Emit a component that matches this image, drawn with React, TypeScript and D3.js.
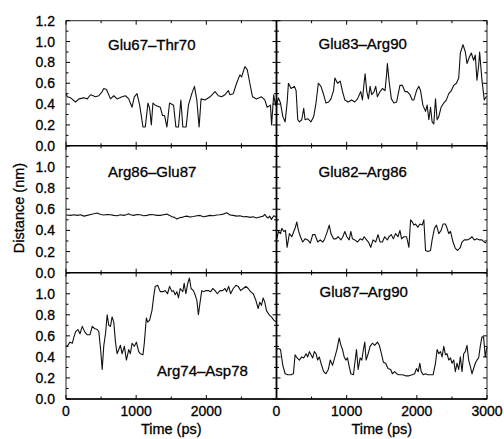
import React from "react";
import * as d3 from "d3";

// ---------- data (time in ps, distance in nm) ----------
const glu67Time = [0,19,66,137,184,255,303,350,421,468,516,539,577,634,681,728,799,847,894,941,974,1012,1050,1097,1130,1168,1192,1216,1239,1272,1343,1376,1405,1438,1476,1533,1566,1603,1637,1665,1712,1745,1793,1831,1864,1897,1925,1982,2053,2124,2171,2218,2266,2313,2337,2384,2431,2479,2502,2549,2583,2620,2658,2715,2786,2833,2867,2914,2930,2960,2985,3000];
const glu67Dist = [0.50,0.47,0.46,0.42,0.45,0.46,0.45,0.49,0.47,0.48,0.52,0.55,0.54,0.45,0.48,0.45,0.47,0.48,0.45,0.37,0.47,0.50,0.39,0.18,0.18,0.41,0.36,0.20,0.41,0.39,0.37,0.29,0.29,0.18,0.41,0.39,0.18,0.18,0.44,0.18,0.18,0.39,0.50,0.57,0.44,0.18,0.45,0.44,0.47,0.52,0.48,0.47,0.49,0.53,0.49,0.50,0.60,0.68,0.66,0.76,0.73,0.60,0.47,0.45,0.47,0.44,0.37,0.39,0.20,0.49,0.39,0.45];

const glu83Time = [0,28,57,90,123,151,170,208,255,279,303,326,360,388,407,445,492,530,563,596,634,672,705,743,776,813,832,870,908,941,974,1022,1069,1116,1154,1201,1225,1249,1263,1287,1310,1334,1357,1391,1414,1438,1476,1509,1547,1570,1580,1608,1637,1674,1712,1759,1793,1831,1864,1902,1935,1958,1996,2029,2053,2086,2124,2147,2171,2195,2218,2242,2266,2289,2313,2346,2384,2422,2455,2493,2526,2564,2597,2620,2658,2691,2715,2748,2776,2810,2833,2857,2881,2895,2928,2961,2989,3000];
const glu83Dist = [0.39,0.46,0.41,0.28,0.23,0.41,0.60,0.55,0.57,0.53,0.25,0.23,0.25,0.36,0.25,0.26,0.23,0.28,0.41,0.60,0.57,0.49,0.41,0.42,0.45,0.53,0.65,0.60,0.62,0.52,0.44,0.42,0.44,0.42,0.45,0.52,0.44,0.61,0.69,0.52,0.45,0.57,0.49,0.52,0.57,0.47,0.52,0.55,0.53,0.69,0.79,0.60,0.45,0.41,0.42,0.58,0.58,0.52,0.52,0.49,0.44,0.44,0.53,0.57,0.53,0.39,0.33,0.39,0.25,0.37,0.23,0.21,0.45,0.25,0.28,0.37,0.41,0.44,0.50,0.53,0.58,0.60,0.65,0.89,0.97,0.90,0.79,0.85,0.89,0.82,0.87,0.63,0.77,0.90,0.63,0.44,0.47,0.47];

const arg86Time = [0,66,114,161,208,255,303,350,397,445,492,539,587,634,681,728,776,823,870,894,918,965,1012,1059,1107,1154,1201,1249,1296,1343,1391,1438,1476,1509,1547,1580,1618,1651,1689,1722,1769,1816,1864,1911,1958,2006,2053,2100,2147,2195,2242,2289,2313,2337,2384,2431,2479,2526,2573,2620,2668,2715,2762,2810,2833,2857,2881,2904,2928,2961,3000];
const arg86Dist = [0.545,0.542,0.548,0.542,0.548,0.535,0.542,0.551,0.557,0.564,0.551,0.545,0.551,0.548,0.542,0.539,0.548,0.542,0.551,0.557,0.548,0.542,0.551,0.548,0.539,0.542,0.551,0.548,0.542,0.542,0.548,0.554,0.542,0.529,0.523,0.507,0.520,0.523,0.532,0.535,0.526,0.532,0.539,0.542,0.529,0.535,0.542,0.539,0.545,0.548,0.554,0.567,0.557,0.545,0.542,0.535,0.539,0.529,0.532,0.523,0.529,0.517,0.526,0.535,0.551,0.529,0.517,0.535,0.504,0.539,0.523];

const glu82Time = [0,28,57,76,104,128,151,184,218,246,270,289,312,341,374,407,445,482,516,549,587,624,657,681,714,752,776,813,847,880,918,946,974,1003,1036,1059,1083,1116,1154,1192,1225,1249,1272,1310,1343,1376,1414,1447,1476,1509,1542,1580,1603,1637,1665,1698,1731,1759,1783,1816,1854,1887,1911,1935,1958,1982,2015,2043,2076,2100,2124,2157,2195,2218,2251,2280,2313,2346,2374,2408,2431,2455,2479,2516,2549,2583,2620,2644,2677,2715,2753,2786,2819,2857,2895,2928,2961,2989];
const glu82Dist = [0.31,0.39,0.37,0.42,0.39,0.40,0.24,0.37,0.34,0.39,0.43,0.48,0.40,0.34,0.29,0.32,0.31,0.28,0.36,0.36,0.29,0.31,0.29,0.31,0.37,0.45,0.37,0.32,0.32,0.34,0.31,0.34,0.39,0.34,0.31,0.39,0.32,0.31,0.29,0.32,0.31,0.34,0.32,0.29,0.24,0.31,0.29,0.36,0.29,0.29,0.34,0.31,0.34,0.36,0.32,0.37,0.34,0.40,0.32,0.34,0.34,0.24,0.50,0.48,0.45,0.46,0.43,0.46,0.45,0.50,0.21,0.20,0.21,0.31,0.42,0.45,0.37,0.40,0.46,0.46,0.42,0.37,0.39,0.29,0.23,0.21,0.24,0.29,0.31,0.31,0.32,0.34,0.31,0.32,0.31,0.31,0.29,0.28];

const arg74Time = [0,28,57,90,114,137,170,199,232,265,303,341,374,407,445,468,492,516,539,563,587,610,634,657,681,705,728,752,776,799,832,861,894,918,941,974,1003,1036,1059,1097,1116,1145,1164,1192,1225,1249,1272,1306,1343,1381,1414,1447,1476,1509,1533,1556,1580,1603,1627,1665,1684,1708,1736,1759,1783,1816,1840,1864,1887,1911,1935,1958,1996,2029,2062,2091,2124,2157,2195,2232,2266,2289,2318,2346,2384,2422,2455,2488,2526,2564,2597,2630,2668,2705,2739,2762,2786,2810,2833,2857,2895,2928,2961,3000];
const arg74Dist = [0.50,0.51,0.54,0.53,0.59,0.64,0.66,0.62,0.69,0.64,0.61,0.61,0.69,0.67,0.66,0.64,0.48,0.28,0.51,0.62,0.80,0.70,0.69,0.78,0.73,0.54,0.43,0.47,0.51,0.43,0.50,0.37,0.47,0.43,0.53,0.50,0.54,0.45,0.43,0.42,0.53,0.77,0.73,0.75,0.84,0.97,1.07,1.08,1.02,1.02,1.03,1.00,1.07,1.02,1.03,0.99,1.02,0.96,1.05,1.02,1.10,1.00,1.10,1.15,1.05,1.03,0.99,0.94,0.80,0.92,1.03,1.02,1.03,1.03,1.02,1.05,1.03,1.00,1.03,1.03,1.05,1.02,1.07,1.00,1.05,1.08,1.07,1.03,1.05,1.07,1.05,1.02,1.00,0.94,0.86,0.92,0.89,0.96,0.92,0.84,0.80,0.78,0.75,0.73];

const glu87Time = [0,28,57,90,123,161,208,241,265,293,326,360,388,421,445,468,492,516,539,563,587,610,634,672,705,738,766,799,832,861,894,918,941,965,988,1012,1036,1059,1097,1116,1140,1164,1192,1216,1239,1258,1277,1306,1334,1367,1400,1438,1466,1495,1523,1556,1589,1627,1651,1684,1712,1745,1793,1840,1887,1935,1968,1996,2020,2043,2062,2091,2124,2157,2195,2232,2266,2289,2313,2337,2360,2384,2408,2431,2455,2479,2502,2526,2549,2573,2597,2620,2644,2668,2691,2715,2739,2762,2786,2810,2833,2857,2881,2904,2928,2951,2975,3000];
const glu87Dist = [0.47,0.48,0.47,0.32,0.24,0.23,0.23,0.24,0.42,0.39,0.37,0.40,0.39,0.43,0.40,0.45,0.42,0.39,0.45,0.43,0.37,0.40,0.34,0.26,0.24,0.28,0.37,0.32,0.40,0.47,0.58,0.51,0.47,0.40,0.37,0.39,0.31,0.24,0.23,0.34,0.47,0.28,0.39,0.37,0.47,0.54,0.37,0.43,0.50,0.53,0.51,0.54,0.51,0.43,0.35,0.34,0.29,0.28,0.24,0.26,0.24,0.23,0.23,0.22,0.22,0.23,0.24,0.29,0.26,0.34,0.26,0.23,0.24,0.23,0.23,0.23,0.34,0.47,0.43,0.45,0.40,0.50,0.42,0.43,0.37,0.39,0.34,0.37,0.26,0.34,0.28,0.40,0.26,0.43,0.45,0.51,0.37,0.31,0.24,0.29,0.34,0.37,0.39,0.50,0.59,0.59,0.40,0.50];

const panelLabels = ["Glu67–Thr70", "Glu83–Arg90", "Arg86–Glu87", "Glu82–Arg86", "Arg74–Asp78", "Glu87–Arg90"];
const yTickLabelsTop = [0, 0.2, 0.4, 0.6, 0.8, 1.0, 1.2];
const yTickLabelsLower = [0, 0.2, 0.4, 0.6, 0.8, 1.0];
const xTickLabelsLeft = [0, 1000, 2000];
const xTickLabelsRight = [0, 1000, 2000, 3000];
const yAxisTitle = "Distance (nm)";
const xAxisTitle = "Time (ps)";

// ---------- layout ----------
const W = 504, H = 439;
const colEdges = [66, 276.5, 487];
const rowEdges = [20.7, 145.8, 272.7, 399];
const FONT = "'Liberation Sans', Arial, Helvetica, sans-serif";
const TEXT_STROKE = 0.3;

const series = [
  { time: glu67Time, dist: glu67Dist, row: 0, col: 0, lx: 42, ly: 29 },
  { time: glu83Time, dist: glu83Dist, row: 0, col: 1, lx: 42, ly: 28.5 },
  { time: arg86Time, dist: arg86Dist, row: 1, col: 0, lx: 42, ly: 31 },
  { time: glu82Time, dist: glu82Dist, row: 1, col: 1, lx: 42, ly: 31 },
  { time: arg74Time, dist: arg74Dist, row: 2, col: 0, lx: 91, ly: 103 },
  { time: glu87Time, dist: glu87Dist, row: 2, col: 1, lx: 43, ly: 24 },
];

const xScales = [0, 1].map((c) => d3.scaleLinear().domain([0, 3000]).range([colEdges[c], colEdges[c + 1]]));
const yScales = [0, 1, 2].map((r) => d3.scaleLinear().domain([0, 1.2]).range([rowEdges[r + 1], rowEdges[r]]));

export default function App() {
  const ticks: JSX.Element[] = [];
  let k = 0;
  for (let r = 0; r < 3; r++) {
    for (let c = 0; c < 2; c++) {
      const xs = xScales[c], ys = yScales[r];
      const x0 = colEdges[c], x1 = colEdges[c + 1];
      const y0 = rowEdges[r + 1], y1 = rowEdges[r];
      d3.range(0, 3001, 500).forEach((t) => {
        const major = t % 1000 === 0;
        const len = major ? 4 : 2.5;
        const x = xs(t);
        ticks.push(<line key={k++} x1={x} x2={x} y1={y0} y2={y0 - len} stroke="#000" strokeWidth={1} />);
        ticks.push(<line key={k++} x1={x} x2={x} y1={y1} y2={y1 + len} stroke="#000" strokeWidth={1} />);
      });
      d3.range(0, 13).forEach((i) => {
        const v = i / 10;
        const major = i % 2 === 0;
        const len = major ? 4 : 2.5;
        const y = ys(v);
        ticks.push(<line key={k++} x1={x0} x2={x0 + len} y1={y} y2={y} stroke="#000" strokeWidth={1} />);
        ticks.push(<line key={k++} x1={x1} x2={x1 - len} y1={y} y2={y} stroke="#000" strokeWidth={1} />);
      });
    }
  }

  const line = (s: typeof series[0]) =>
    d3
      .line<number>()
      .x((_, i) => xScales[s.col](s.time[i]))
      .y((d) => yScales[s.row](d))(s.dist) || "";

  return (
    <svg width={W} height={H} style={{ position: "absolute", left: 0, top: 0, background: "#fff" }} fontFamily={FONT}>
      <rect x={0} y={0} width={W} height={H} fill="#fff" />
      {series.map((s, i) => (
        <path key={"p" + i} d={line(s)} fill="none" stroke="#111" strokeWidth={1.1} strokeLinejoin="round" />
      ))}
      <rect x={colEdges[0]} y={rowEdges[0]} width={colEdges[2] - colEdges[0]} height={rowEdges[3] - rowEdges[0]} fill="none" stroke="#222" strokeWidth={1} />
      <line x1={colEdges[1]} x2={colEdges[1]} y1={rowEdges[0]} y2={rowEdges[3]} stroke="#000" strokeWidth={1.8} />
      {[1, 2].map((r) => (
        <line key={"h" + r} x1={colEdges[0]} x2={colEdges[2]} y1={rowEdges[r]} y2={rowEdges[r]} stroke="#000" strokeWidth={1.6} />
      ))}
      <line x1={colEdges[0]} x2={colEdges[2]} y1={rowEdges[3]} y2={rowEdges[3]} stroke="#000" strokeWidth={1.4} />
      {ticks}
      <g fill="#000" stroke="#000" strokeWidth={TEXT_STROKE}>
        {[0, 1, 2].map((r) =>
          (r === 0 ? yTickLabelsTop : yTickLabelsLower).map((v) => (
            <text key={"yl" + r + v} x={55} y={yScales[r](v)} dy="0.36em" textAnchor="end" fontSize={14}>
              {v.toFixed(1)}
            </text>
          ))
        )}
        {[0, 1].map((c) =>
          (c === 0 ? xTickLabelsLeft : xTickLabelsRight).map((t) => (
            <text key={"xl" + c + t} x={xScales[c](t)} y={416} textAnchor="middle" fontSize={14}>
              {t}
            </text>
          ))
        )}
        {[0, 1].map((c) => (
          <text key={"xt" + c} x={(colEdges[c] + colEdges[c + 1]) / 2} y={434} textAnchor="middle" fontSize={14.5}>
            {xAxisTitle}
          </text>
        ))}
        <text transform={`translate(24, 208) rotate(-90)`} textAnchor="middle" fontSize={14.5}>
          {yAxisTitle}
        </text>
        {series.map((s, i) => (
          <text key={"lab" + i} x={colEdges[s.col] + s.lx} y={rowEdges[s.row] + s.ly} fontSize={15}>
            {panelLabels[i]}
          </text>
        ))}
      </g>
    </svg>
  );
}
